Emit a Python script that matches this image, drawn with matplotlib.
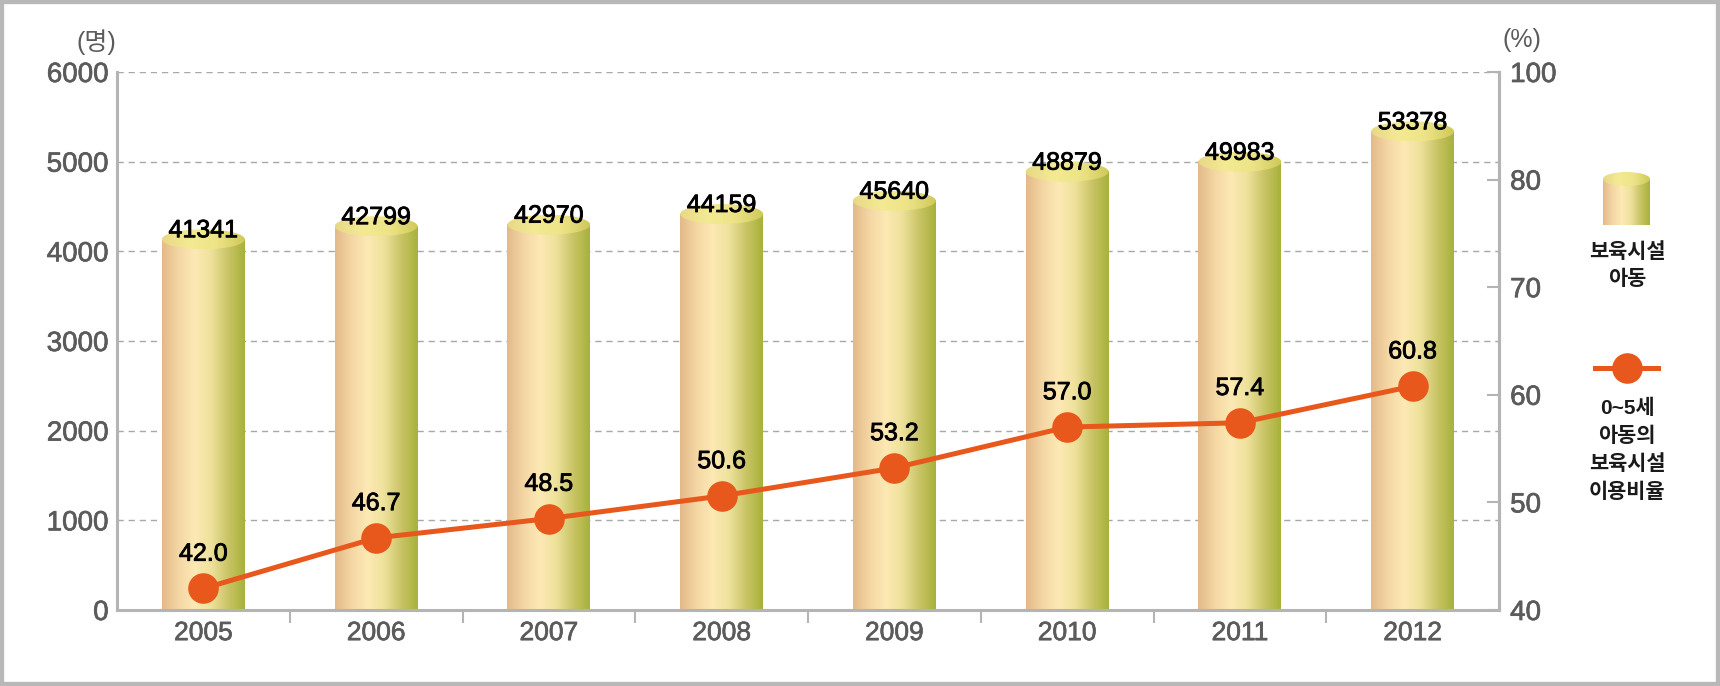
"""Childcare facility children and usage rate, 2005-2012."""

import matplotlib

matplotlib.use("Agg")

import matplotlib.patheffects as pe
import matplotlib.pyplot as plt
import numpy as np
from matplotlib.colors import LinearSegmentedColormap
from matplotlib.lines import Line2D
from matplotlib.patches import Ellipse, Rectangle

plt.rcParams["font.family"] = ["Liberation Sans", "Noto Sans CJK KR"]

years = ["2005", "2006", "2007", "2008", "2009", "2010", "2011", "2012"]
children = [41341, 42799, 42970, 44159, 45640, 48879, 49983, 53378]
usage_rate = [42.0, 46.7, 48.5, 50.6, 53.2, 57.0, 57.4, 60.8]

left_ticks = [0, 1000, 2000, 3000, 4000, 5000, 6000]
# right axis is evenly spaced; the source labels its top tick "100"
right_ticks = [40, 50, 60, 70, 80, 90]
right_tick_labels = ["40", "50", "60", "70", "80", "100"]

bar_label = ["보육시설", "아동"]
line_label = ["0~5세", "아동의", "보육시설", "이용비율"]

W, H = 1720, 686
GRAY_TXT = "#5b5b5b"
SPINE = "#b4b4b4"
ORANGE = "#e8571b"

BODY_CMAP = LinearSegmentedColormap.from_list(
    "body", ["#e3b98a", "#f4d7a4", "#fde9b4", "#ede19a", "#c9c466", "#a7b23a"]
)
CAP_CMAP = LinearSegmentedColormap.from_list(
    "cap", ["#e8d886", "#f4ea94", "#ede386", "#cfc95a"]
)
GRAD = np.linspace(0, 1, 256).reshape(1, -1)


def heavy(color, width=0.6):
    return [pe.withStroke(linewidth=width, foreground=color)]


def draw_cylinder(ax, x, width, top, cap_h, zorder=2):
    x0 = x - width / 2
    ax.imshow(GRAD, cmap=BODY_CMAP, extent=[x0, x0 + width, 0, top],
              aspect="auto", zorder=zorder, interpolation="bicubic")
    cap = Ellipse((x, top), width, cap_h, facecolor="none", edgecolor="none")
    ax.add_patch(cap)
    im = ax.imshow(GRAD, cmap=CAP_CMAP,
                   extent=[x0, x0 + width, top - cap_h / 2, top + cap_h / 2],
                   aspect="auto", zorder=zorder + 0.1, interpolation="bicubic")
    im.set_clip_path(cap)


fig = plt.figure(figsize=(W / 100, H / 100), dpi=100)
ax = fig.add_axes([117 / W, 1 - 610 / H, (1499 - 117) / W, (610 - 72) / H])

x = np.arange(len(years))
bar_w = 0.48
# the source draws the bars against a 0-6000 scale (values in tens)
heights = np.array(children) / 10
cap_h = 6000 * 20 / 538
for xi, h, v in zip(x, heights, children):
    draw_cylinder(ax, xi, bar_w, h, cap_h)
    ax.annotate(f"{v}", (xi, h), xytext=(0, 1.5), textcoords="offset points",
                ha="center", va="baseline", fontsize=18, color="black", zorder=5,
                path_effects=heavy("black"))

ax.set_xlim(-0.5, len(years) - 0.5)
ax.set_ylim(0, 6000)
ax.set_yticks(left_ticks)
ax.set_xticks(x)
ax.set_xticklabels(years)
ax.set_xticks(x[:-1] + 0.5, minor=True)
ax.tick_params(axis="y", length=0, pad=6, labelsize=20, labelcolor=GRAY_TXT)
ax.tick_params(axis="x", which="major", length=0, pad=8, labelsize=19,
               labelcolor=GRAY_TXT)
ax.tick_params(axis="x", which="minor", length=9, width=1.5, color=SPINE,
               direction="out")
ax.grid(axis="y", color="#a8a8a8", linestyle=(0, (4.5, 3.5)), linewidth=1)
ax.set_axisbelow(True)
for side in ["left", "bottom", "right"]:
    ax.spines[side].set_color(SPINE)
    ax.spines[side].set_linewidth(2.2)
ax.spines["top"].set_visible(False)

ax2 = ax.twinx()
ax2.set_ylim(40, 90)
ax2.set_yticks(right_ticks)
ax2.set_yticklabels(right_tick_labels)
ax2.tick_params(axis="y", direction="in", length=9, width=1.5, color=SPINE,
                pad=8, labelsize=20, labelcolor=GRAY_TXT)
for side in ["left", "bottom", "top"]:
    ax2.spines[side].set_visible(False)
ax2.spines["right"].set_color(SPINE)
ax2.spines["right"].set_linewidth(2.2)
ax2.plot(x, usage_rate, color=ORANGE, linewidth=3.6, marker="o",
         markersize=21, zorder=4)
for xi, v in zip(x, usage_rate):
    ax2.annotate(f"{v:.1f}", (xi, v), xytext=(0, 20), textcoords="offset points",
                 ha="center", va="baseline", fontsize=18, color="black",
                 path_effects=heavy("black"))

for lbl in ax.get_xticklabels() + ax.get_yticklabels() + ax2.get_yticklabels():
    lbl.set_path_effects(heavy(GRAY_TXT, 0.5))

fig.text(96 / W, 1 - 42 / H, "(명)", ha="center", va="center", fontsize=18,
         color=GRAY_TXT)
fig.text(1522 / W, 1 - 40 / H, "(%)", ha="center", va="center", fontsize=18,
         color=GRAY_TXT)

# legend: cylinder icon
lax = fig.add_axes([1603 / W, 1 - 225 / H, 47 / W, 53 / H])
lax.axis("off")
icon_cap = 14 / 53
draw_cylinder(lax, 0.5, 1.0, 1 - icon_cap / 2, icon_cap)
lax.set_xlim(0, 1)
lax.set_ylim(0, 1)
for i, line in enumerate(bar_label):
    fig.text(1627 / W, 1 - (252 + 27 * i) / H, line, ha="center", va="center",
             fontsize=15, fontweight="bold", color="#1a1a1a")

# legend: line icon
fig.add_artist(Line2D([1595 / W, 1658 / W], [1 - 368 / H, 1 - 368 / H],
                      transform=fig.transFigure, color=ORANGE, linewidth=3.6))
fig.add_artist(Line2D([1627 / W], [1 - 368 / H], transform=fig.transFigure,
                      color=ORANGE, marker="o", markersize=21, linestyle="none"))
for i, line in enumerate(line_label):
    fig.text(1627 / W, 1 - (408 + 28 * i) / H, line, ha="center", va="center",
             fontsize=15, fontweight="bold", color="#1a1a1a")

fig.add_artist(Rectangle((0, 0), 1, 1, transform=fig.transFigure, fill=False,
                         edgecolor="#b8b8b8", linewidth=6))

fig.savefig("out.png", dpi=100)
